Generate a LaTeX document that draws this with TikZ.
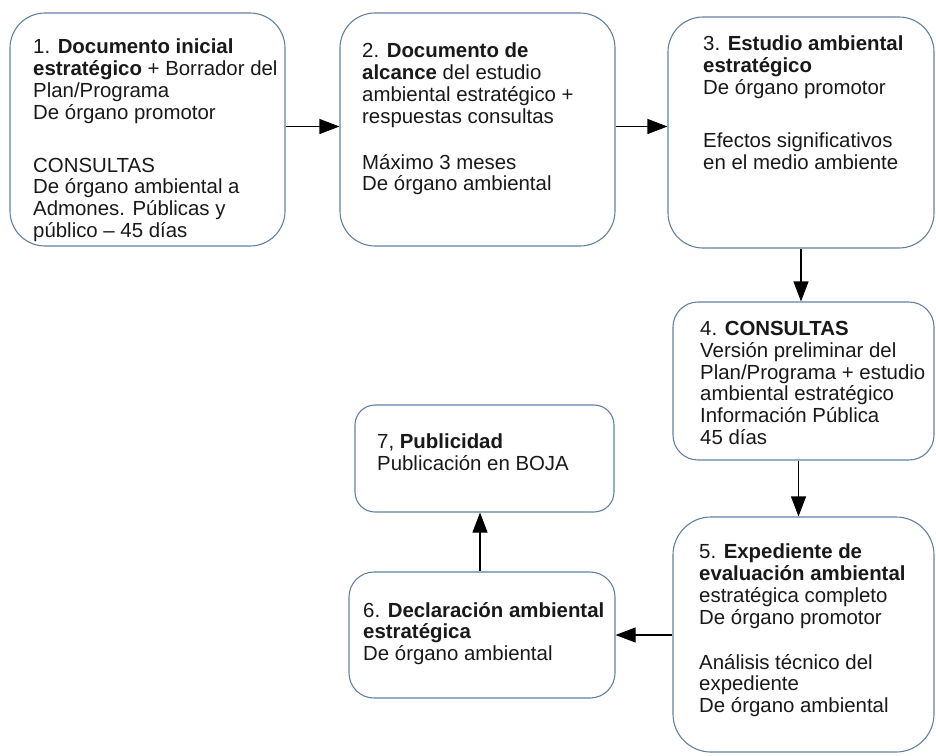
\documentclass[tikz,border=0pt]{standalone}
\usepackage{fontspec}
\setmainfont{Liberation Sans}
\usetikzlibrary{arrows.meta,calc}
\definecolor{boxline}{RGB}{100,128,160}
\definecolor{txtcol}{RGB}{25,25,25}
\tikzset{
  box/.style={draw=boxline, line width=1.1pt, fill=white, inner sep=0pt},
  txt/.style={anchor=north west, inner sep=0pt, align=left, text=txtcol,
    font=\fontsize{20.4}{21.8}\selectfont},
  conn/.style={draw=black, line width=1.1pt, -{Triangle[length=20pt,width=15pt]}}
}
\begin{document}
\begin{tikzpicture}[x=1pt,y=-1pt]
\useasboundingbox (0,0) rectangle (936,755);
% boxes
\node[box, rounded corners=35pt, minimum width=275pt, minimum height=233pt] (b1) at (147.5,129.5) {};
\node[box, rounded corners=35pt, minimum width=275pt, minimum height=233pt] (b2) at (477.5,129.5) {};
\node[box, rounded corners=35pt, minimum width=266pt, minimum height=231pt] (b3) at (801,132.5) {};
\node[box, rounded corners=25pt, minimum width=261pt, minimum height=158pt] (b4) at (803.5,381) {};
\node[box, rounded corners=38pt, minimum width=261pt, minimum height=235pt] (b5) at (803.5,634.5) {};
\node[box, rounded corners=25pt, minimum width=266pt, minimum height=126pt] (b6) at (482,635) {};
\node[box, rounded corners=20pt, minimum width=259pt, minimum height=107pt] (b7) at (484.5,458.5) {};
% texts
\node[txt] (t1) at (33,39) {1. \textbf{Documento inicial}\\\textbf{estratégico} + Borrador del\\Plan/Programa\\De órgano promotor\\[31pt]CONSULTAS\\De órgano ambiental a\\Admones. Públicas y\\público – 45 días};
\node[txt] (t2) at (362,43) {2. \textbf{Documento de}\\\textbf{alcance} del estudio\\ambiental estratégico +\\respuestas consultas\\[24pt]Máximo 3 meses\\De órgano ambiental};
\node[txt] (t3) at (703,36) {3. \textbf{Estudio ambiental}\\\textbf{estratégico}\\De órgano promotor\\[31pt]Efectos significativos\\en el medio ambiente};
\node[txt] (t4) at (700,321) {4. \textbf{CONSULTAS}\\Versión preliminar del\\Plan/Programa + estudio\\ambiental estratégico\\Información Pública\\45 días};
\node[txt] (t5) at (699,544) {5. \textbf{Expediente de}\\\textbf{evaluación ambiental}\\estratégica completo\\De órgano promotor\\[23pt]Análisis técnico del\\expediente\\De órgano ambiental};
\node[txt] (t6) at (363,602) {6. \textbf{Declaración ambiental}\\\textbf{estratégica}\\De órgano ambiental};
\node[txt] (t7) at (377,434) {7, \textbf{Publicidad}\\Publicación en BOJA};
% connector anchor points
\path (b1.east) ++(0,-3) coordinate (s1);
\path (b2.east) ++(0,-3) coordinate (s2);
\path (b4.south) ++(-5,0) coordinate (s4);
\path (b6.north) ++(-2,0) coordinate (s6);
% connectors
\draw[conn] (s1) -- (s1 -| b2.west);
\draw[conn] (s2) -- (s2 -| b3.west);
\draw[conn] (b3.south) -- (b3.south |- b4.north);
\draw[conn] (s4) -- (s4 |- b5.north);
\draw[conn] (b5.west |- b6.east) -- (b6.east);
\draw[conn] (s6) -- (s6 |- b7.south);
\end{tikzpicture}
\end{document}
